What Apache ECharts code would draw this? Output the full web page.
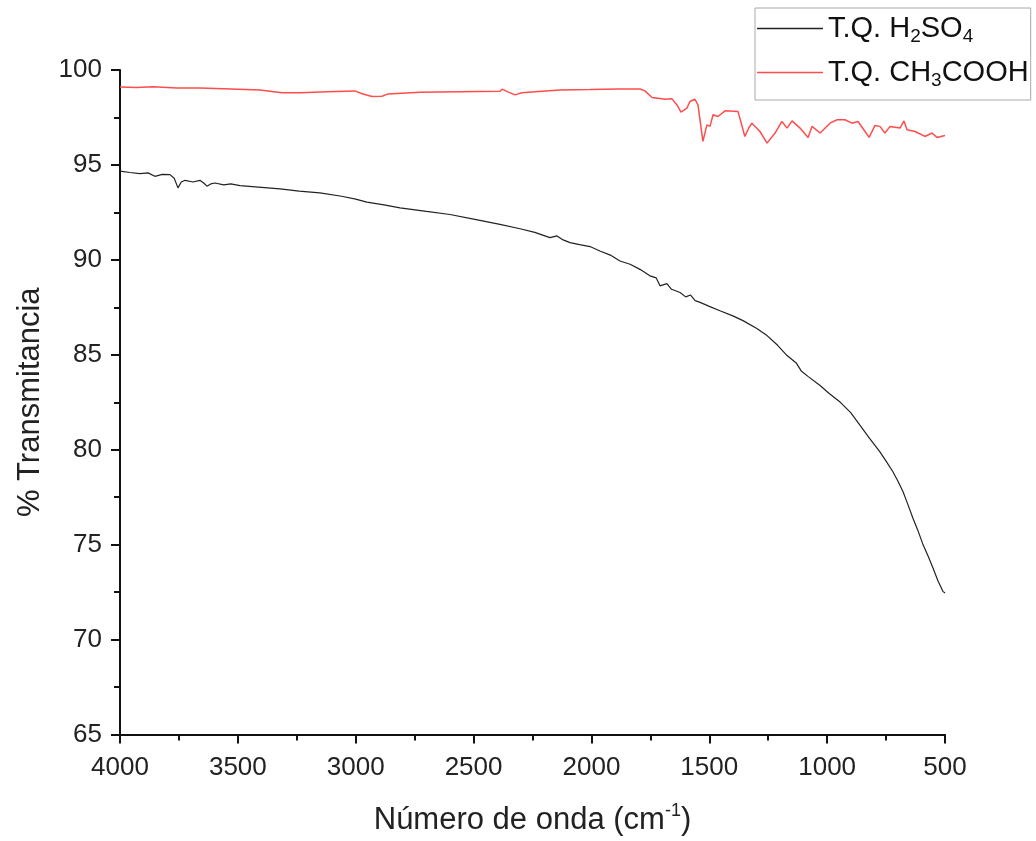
<!DOCTYPE html>
<html>
<head>
<meta charset="utf-8">
<script src="https://cdn.jsdelivr.net/npm/echarts@6/dist/echarts.min.js"></script>
<style>
html,body{margin:0;padding:0;background:#fff;}
#chart{width:1036px;height:841px;}
</style>
</head>
<body>
<div id="chart"></div>
<script>
// Wavenumbers (cm-1) and % transmittance
const h2so4Wavenumber = [4000,3958,3915,3881,3852,3820,3788,3770,3754,3740,3724,3690,3661,3645,3631,3615,3597,3560,3530,3491,3400,3321,3240,3152,3060,3000,2953,2880,2812,2700,2600,2500,2388,2303,2240,2176,2146,2120,2091,2050,2006,1964,1920,1879,1836,1794,1752,1725,1709,1680,1660,1624,1600,1580,1560,1539,1500,1455,1400,1357,1300,1255,1210,1170,1130,1110,1102,1080,1030,990,945,900,861,820,776,750,721,700,678,660,636,615,593,570,551,530,509,500];
const h2so4Trans = [94.67,94.6,94.54,94.58,94.4,94.5,94.49,94.3,93.79,94.1,94.19,94.1,94.19,94.05,93.88,94.0,94.05,93.95,94.0,93.91,93.82,93.74,93.62,93.53,93.35,93.2,93.04,92.9,92.74,92.55,92.39,92.15,91.87,91.64,91.45,91.17,91.26,91.05,90.91,90.8,90.7,90.47,90.25,89.94,89.77,89.5,89.16,89.05,88.63,88.75,88.45,88.28,88.05,88.15,87.85,87.76,87.55,87.32,87.05,86.8,86.4,86.01,85.5,84.96,84.55,84.15,84.17,83.85,83.38,82.95,82.51,81.95,81.29,80.6,79.89,79.4,78.84,78.35,77.79,77.2,76.39,75.75,74.99,74.35,73.77,73.1,72.54,72.45];

const ch3coohWavenumber = [4000,3930,3860,3760,3661,3530,3406,3313,3236,3120,3003,2973,2931,2888,2863,2727,2560,2388,2379,2354,2324,2295,2239,2133,2006,1879,1794,1773,1743,1710,1688,1658,1637,1620,1595,1582,1561,1548,1527,1510,1497,1484,1463,1433,1378,1349,1332,1319,1285,1255,1221,1192,1170,1149,1115,1081,1064,1030,988,958,924,895,869,839,822,797,776,755,733,691,674,661,627,585,555,534,500];
const ch3coohTrans = [99.1,99.08,99.12,99.05,99.05,99.0,98.95,98.8,98.8,98.85,98.9,98.75,98.6,98.62,98.74,98.83,98.86,98.88,98.99,98.85,98.69,98.8,98.86,98.95,98.97,99.0,99.0,98.9,98.55,98.5,98.46,98.48,98.16,97.78,97.99,98.34,98.46,98.16,96.24,97.11,97.03,97.64,97.55,97.85,97.81,96.5,96.96,97.2,96.76,96.15,96.68,97.29,96.94,97.32,96.94,96.45,97.03,96.68,97.2,97.38,97.38,97.2,97.29,96.76,96.45,97.08,97.03,96.68,97.03,96.94,97.32,96.85,96.76,96.5,96.68,96.45,96.55];

const seriesNames = ['T.Q. H2SO4','T.Q. CH3COOH'];
const xTicks = {min:500, max:4000, interval:500};
const yTicks = {min:65, max:100, interval:5};

function zip(a,b){return a.map((v,i)=>[v,b[i]]);}

const chart = echarts.init(document.getElementById('chart'));
const font = '"Liberation Sans", Arial, sans-serif';
chart.setOption({
  animation:false,
  backgroundColor:'#fff',
  grid:{left:120,right:91,top:70,bottom:104,containLabel:false},
  legend:{
    orient:'vertical',
    left:755, top:8,
    padding:[6,2,10,2],
    itemGap:12,
    icon:'rect',
    itemWidth:66, itemHeight:1.5,
    borderColor:'#aaa', borderWidth:1,
    backgroundColor:'#fff',
    data:seriesNames,
    formatter:function(n){
      if(n===seriesNames[0]) return '{t|T.Q. H}{s|2}{t|SO}{s|4}';
      return '{t|T.Q. CH}{s|3}{t|COOH}';
    },
    textStyle:{
      fontFamily:font, color:'#111',
      rich:{
        t:{fontSize:29,fontFamily:font,color:'#111',height:32},
        s:{fontSize:19,fontFamily:font,color:'#111',padding:[16,0,0,0]}
      }
    }
  },
  xAxis:{
    type:'value', inverse:true,
    min:xTicks.min, max:xTicks.max, interval:xTicks.interval,
    name:'{a|Número de onda (cm}{b|-1}{a|)}',
    nameLocation:'middle', nameGap:68,
    nameTextStyle:{rich:{a:{fontSize:31,fontFamily:font,color:'#222'},b:{fontSize:18,fontFamily:font,color:'#222',padding:[0,0,18,0]}}},
    axisLine:{show:true,lineStyle:{color:'#111',width:2}},
    axisTick:{show:true,inside:false,length:9,lineStyle:{color:'#111',width:2}},
    minorTick:{show:true,splitNumber:2,length:6,lineStyle:{color:'#111',width:2}},
    axisLabel:{fontSize:26,fontFamily:font,color:'#222',margin:20,formatter:function(v){return String(v);}},
    splitLine:{show:false}
  },
  yAxis:{
    type:'value',
    min:yTicks.min, max:yTicks.max, interval:yTicks.interval,
    name:'% Transmitancia',
    nameLocation:'middle', nameGap:74,
    nameTextStyle:{fontSize:31,fontFamily:font,color:'#222'},
    axisLine:{show:true,lineStyle:{color:'#111',width:2}},
    axisTick:{show:true,inside:false,length:9,lineStyle:{color:'#111',width:2}},
    minorTick:{show:true,splitNumber:2,length:6,lineStyle:{color:'#111',width:2}},
    axisLabel:{fontSize:26,fontFamily:font,color:'#222',margin:18},
    splitLine:{show:false}
  },
  series:[
    {name:seriesNames[0],type:'line',symbol:'none',data:zip(h2so4Wavenumber,h2so4Trans),
     lineStyle:{color:'#222',width:1.2},itemStyle:{color:'#222'}},
    {name:seriesNames[1],type:'line',symbol:'none',data:zip(ch3coohWavenumber,ch3coohTrans),
     lineStyle:{color:'#ff4d4d',width:1.5},itemStyle:{color:'#ff4d4d'}}
  ]
});
</script>
</body>
</html>
